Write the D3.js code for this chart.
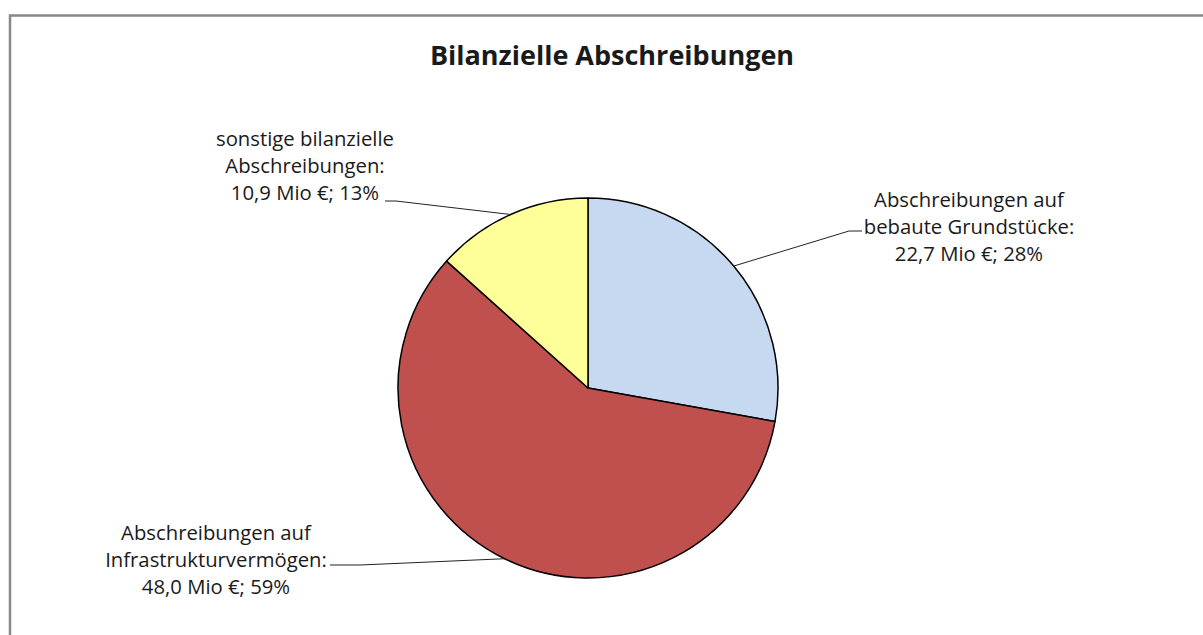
<!DOCTYPE html>
<html>
<head>
	<meta charset="utf-8">
	<title>Bilanzielle Abschreibungen</title>
	<script src="https://cdn.jsdelivr.net/npm/d3@7"></script>
<style>
body { margin: 0; background: #fff; }
text { font-family: "Open Sans", sans-serif; fill: #1a1a1a; }
.title { font-weight: bold; font-size: 27px; }
.lbl { font-size: 20.3px; }
.leader { stroke: #222; stroke-width: 1; fill: none; }
</style>
</head>
<body>
<svg width="1203" height="635"></svg>
<script>

var categories = ["Abschreibungen auf bebaute Grundstücke", "Abschreibungen auf Infrastrukturvermögen", "sonstige bilanzielle Abschreibungen"];
var values = [22.7, 48.0, 10.9];
var percents = [28, 59, 13];
var labelLines = [
  ["Abschreibungen auf", "bebaute Grundstücke:"],
  ["Abschreibungen auf", "Infrastrukturvermögen:"],
  ["sonstige bilanzielle", "Abschreibungen:"]
];
var colors = ["#C6D9F1", "#C0504D", "#FFFF99"];

var svg = d3.select("svg"),
	width = +svg.attr("width"),
	height = +svg.attr("height");

// chart area border (top and left visible)
svg.append("path")
  .attr("d", "M10," + height + "V15.5H" + width)
  .attr("fill", "none")
  .attr("stroke", "#888")
  .attr("stroke-width", 2.5);

svg.append("text")
  .attr("class", "title")
  .attr("x", 612)
  .attr("y", 65)
  .attr("text-anchor", "middle")
  .text("Bilanzielle Abschreibungen");

var cx = 588, cy = 388, r = 190;

var pie = d3.pie().sort(null).value(function(d) { return d; });
var arcs = pie(values);
var arc = d3.arc().innerRadius(0).outerRadius(r);

var g = svg.append("g").attr("transform", "translate(" + cx + "," + cy + ")");

g.selectAll("path")
  .data(arcs)
  .enter().append("path")
	.attr("d", arc)
	.attr("fill", function(d, i) { return colors[i]; })
	.attr("stroke", "#000")
	.attr("stroke-width", 1.5)
	.attr("stroke-linejoin", "round");

// label layout: centre x, first line y, leader anchor
var layout = [
  { x: 969, y: 207, ax: 862, ay: 231, hx: 849 },
  { x: 216, y: 540, ax: 330, ay: 565, hx: 360 },
  { x: 305, y: 146, ax: 385, ay: 201, hx: 396 }
];
var lineH = 27;

arcs.forEach(function(d, i) {
  var L = layout[i];
  var a = (d.startAngle + d.endAngle) / 2;
  var px = cx + r * Math.sin(a), py = cy - r * Math.cos(a);

  svg.append("path")
	.attr("class", "leader")
	.attr("d", "M" + px + "," + py + "L" + L.hx + "," + L.ay + "H" + L.ax);

  var t = svg.append("text")
	.attr("class", "lbl")
	.attr("text-anchor", "middle");
  var lines = labelLines[i].concat([values[i].toFixed(1).replace(".", ",") + " Mio €; " + percents[i] + "%"]);
  lines.forEach(function(s, k) {
	t.append("tspan").attr("x", L.x).attr("y", L.y + k * lineH).text(s);
  });
});

</script>
</body>
</html>
